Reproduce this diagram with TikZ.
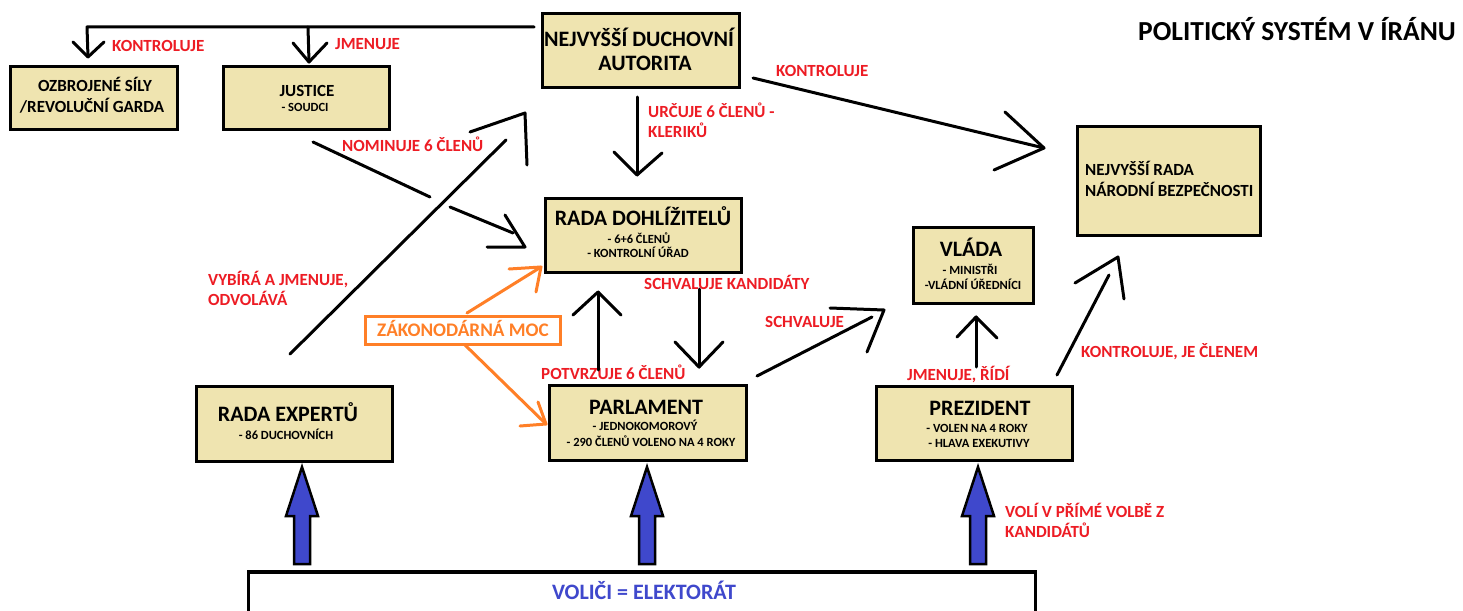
\documentclass[tikz,border=0pt]{standalone}
\usepackage{fontspec}
\setmainfont{Carlito}
\definecolor{tan}{RGB}{239,228,176}
\definecolor{lblred}{RGB}{237,28,36}
\definecolor{orng}{RGB}{255,127,39}
\definecolor{indg}{RGB}{63,72,204}
\newcommand\fszTitle{\fontsize{27.5}{30}\selectfont\bfseries}
\newcommand\fszBig{\fontsize{22}{26}\selectfont\bfseries}
\newcommand\fszMid{\fontsize{17}{20}\selectfont\bfseries}
\newcommand\fszSub{\fontsize{12.5}{15}\selectfont\bfseries}
\newcommand\fszLbl{\fontsize{17}{20}\selectfont\bfseries}
\begin{document}
\begin{tikzpicture}[x=1pt,y=-1pt,
  tanbox/.style={draw=black,line width=3.5pt,fill=tan,inner sep=0pt},
  conn/.style={draw=black,line width=3pt,line cap=round,line join=round},
  oconn/.style={draw=orng,line width=3pt,line cap=round,line join=round},
  lbl/.style={anchor=base west,inner sep=0pt,text=lblred,font=\fszLbl},
  ttl/.style={anchor=base,inner sep=0pt,font=\fszBig},
  mid/.style={anchor=base,inner sep=0pt,font=\fszMid},
  sub/.style={anchor=base,inner sep=0pt,font=\fszSub},
  bluearrow/.style={draw=black,line width=2.5pt,fill=indg,line join=miter}]
\useasboundingbox (0,0) rectangle (1463,610);
\clip (0,0) rectangle (1463,610);
\fill[white] (0,0) rectangle (1463,610);

% title
\node[anchor=base,inner sep=0pt,font=\fszTitle] (title) at (1297,41) {POLITICKÝ SYSTÉM V ÍRÁNU};

% boxes
\node[tanbox,minimum width=197pt,minimum height=74pt] (autorita) at (641,50.5) {};
\node[tanbox,minimum width=167pt,minimum height=63pt] (ozbrojene) at (94,98) {};
\node[tanbox,minimum width=166pt,minimum height=63pt] (justice) at (306.5,98) {};
\node[tanbox,minimum width=196pt,minimum height=74pt] (rd) at (643.5,235.5) {};
\node[tanbox,minimum width=120pt,minimum height=76pt] (vlada) at (973.5,265.5) {};
\node[tanbox,minimum width=183pt,minimum height=109pt] (nrnb) at (1169,181) {};
\node[tanbox,minimum width=196pt,minimum height=75pt] (experti) at (294.5,424) {};
\node[tanbox,minimum width=197pt,minimum height=75pt] (parlament) at (648,423) {};
\node[tanbox,minimum width=196pt,minimum height=74pt] (prezident) at (974.5,423.5) {};
\node[draw=black,line width=3.5pt,fill=white,inner sep=0pt,minimum width=787pt,minimum height=80pt] (volici) at (642,612) {};
\node[draw=orng,line width=3pt,inner sep=0pt,minimum width=195pt,minimum height=28pt] (zakmoc) at (463,330) {};

% box texts
\node[ttl] (autA) at (639,46.5) {NEJVYŠŠÍ DUCHOVNÍ};
\node[ttl] (autB) at (645,70.5) {AUTORITA};
\node[mid] (ozA) at (95,91.5) {OZBROJENÉ SÍLY};
\node[mid] (ozB) at (92,112.5) {/REVOLUČNÍ GARDA};
\node[mid] (juA) at (307,96) {JUSTICE};
\node[sub] (juB) at (305,111.5) {- SOUDCI};
\node[ttl] (rdA) at (643,225.5) {RADA DOHLÍŽITELŮ};
\node[sub] (rdB) at (639,243.3) {- 6+6 ČLENŮ};
\node[sub] (rdC) at (638,257.7) {- KONTROLNÍ ÚŘAD};
\node[ttl] (vlA) at (971,256.7) {VLÁDA};
\node[sub] (vlB) at (970,274) {- MINISTŘI};
\node[sub] (vlC) at (973,289.3) {-VLÁDNÍ ÚŘEDNÍCI};
\node[anchor=base west,inner sep=0pt,font=\fszMid] (nrA) at (1085,175) {NEJVYŠŠÍ RADA};
\node[anchor=base west,inner sep=0pt,font=\fszMid] (nrB) at (1085,196) {NÁRODNÍ BEZPEČNOSTI};
\node[ttl] (exA) at (288,421.7) {RADA EXPERTŮ};
\node[sub] (exB) at (286,439.3) {- 86 DUCHOVNÍCH};
\node[ttl] (paA) at (646,414) {PARLAMENT};
\node[sub] (paB) at (645,430.7) {- JEDNOKOMOROVÝ};
\node[sub] (paC) at (651,446.7) {- 290 ČLENŮ VOLENO NA 4 ROKY};
\node[ttl] (prA) at (980,415) {PREZIDENT};
\node[sub] (prB) at (977,432.7) {- VOLEN NA 4 ROKY};
\node[sub] (prC) at (979,447.3) {- HLAVA EXEKUTIVY};
\node[anchor=base,inner sep=0pt,font=\fontsize{22}{26}\selectfont\bfseries,text=indg] (volT) at (644,599.3) {VOLIČI = ELEKTORÁT};
\node[anchor=base,inner sep=0pt,font=\fontsize{19.2}{22}\selectfont\bfseries,text=orng] (zakT) at (463,336.7) {ZÁKONODÁRNÁ MOC};

% red labels
\node[lbl] (l1) at (112,51.5) {KONTROLUJE};
\node[lbl] (l2) at (335,49.5) {JMENUJE};
\node[lbl] (l3) at (776,76.5) {KONTROLUJE};
\node[lbl] (l4) at (648,117.5) {URČUJE 6 ČLENŮ -};
\node[lbl] (l4b) at (648,137.5) {KLERIKŮ};
\node[lbl] (l5) at (342,151.5) {NOMINUJE 6 ČLENŮ};
\node[lbl] (l6) at (208,285.5) {VYBÍRÁ A JMENUJE,};
\node[lbl] (l6b) at (208,305.5) {ODVOLÁVÁ};
\node[lbl] (l7) at (644,289.5) {SCHVALUJE KANDIDÁTY};
\node[lbl] (l8) at (765,327.5) {SCHVALUJE};
\node[lbl] (l9) at (541,379.5) {POTVRZUJE 6 ČLENŮ};
\node[lbl] (l10) at (907,380.5) {JMENUJE, ŘÍDÍ};
\node[lbl] (l11) at (1081,357.5) {KONTROLUJE, JE ČLENEM};
\node[lbl] (l12) at (1005,517.5) {VOLÍ V PŘÍMÉ VOLBĚ Z};
\node[lbl] (l12b) at (1005,537.5) {KANDIDÁTŮ};

% connector end points
\coordinate (t0) at (534,27);
\coordinate (t1) at (87,27);
\coordinate (hA) at (88,57);
\coordinate (t2) at (308,27);
\coordinate (hB) at (309,62);
\coordinate (a1) at (637,97);
\coordinate (a2) at (637,175);
\coordinate (k1) at (753,78);
\coordinate (k2) at (1044,148);
\coordinate (j1) at (313,142);
\coordinate (j2) at (430,197);
\coordinate (j3) at (450,207);
\coordinate (j4) at (513,233);
\coordinate (jh) at (525,247);
\coordinate (e1) at (290,354);
\coordinate (e2) at (506,140);
\coordinate (eh) at (525,113);
\coordinate (p1) at (598,370);
\coordinate (p2) at (598,292);
\coordinate (r1) at (699,289);
\coordinate (r2) at (699,367);
\coordinate (s1) at (757,376);
\coordinate (s2) at (872,317);
\coordinate (sh) at (884,310);
\coordinate (v1) at (976,367);
\coordinate (v2) at (976,317);
\coordinate (n1) at (1057,375);
\coordinate (n2) at (1109,275);
\coordinate (nh) at (1118,257);
\coordinate (o1) at (467,313);
\coordinate (o2) at (541,267);
\coordinate (o3) at (465,345);
\coordinate (o4) at (546,424);

% black connectors
\draw[conn] (t0) -- (t1) -- (hA);
\draw[conn] (hA) ++(-15,-15) -- (hA) -- ++(16,-15);
\draw[conn] (t2) -- (hB);
\draw[conn] (hB) ++(-16,-19) -- (hB) -- ++(18,-19);
\draw[conn] (a1) -- (a2);
\draw[conn] (a2) ++(-23,-23) -- (a2) -- ++(25,-22);
\draw[conn] (k1) -- (k2);
\draw[conn] (k2) ++(-39,-36) -- (k2) -- ++(-50,22);
\draw[conn] (j1) -- (j2);
\draw[conn] (j3) -- (j4);
\draw[conn] (jh) ++(-20,-32) -- (jh) -- ++(-38,0);
\draw[conn] (e1) -- (e2);
\draw[conn] (eh) ++(-55,19) -- (eh) -- ++(2,52);
\draw[conn] (p1) -- (p2);
\draw[conn] (p2) ++(-25,23) -- (p2) -- ++(23,23);
\draw[conn] (r1) -- (r2);
\draw[conn] (r2) ++(-24,-25) -- (r2) -- ++(24,-25);
\draw[conn] (s1) -- (s2);
\draw[conn] (sh) ++(-54,-2) -- (sh) -- ++(-17,42);
\draw[conn] (v1) -- (v2);
\draw[conn] (v2) ++(-19,20) -- (v2) -- ++(21,21);
\draw[conn] (n1) -- (n2);
\draw[conn] (nh) ++(-43,26) -- (nh) -- ++(6,42);

% orange connectors
\draw[oconn] (o1) -- (o2);
\draw[oconn] (o2) ++(-32,2) -- (o2) -- ++(-5,25);
\draw[oconn] (o3) -- (o4);
\draw[oconn] (o4) ++(-8,-22) -- (o4) -- ++(-26,2);

% blue arrows
\coordinate (b1) at (302,467);
\coordinate (b2) at (647,467);
\coordinate (b3) at (978,467);
\foreach \b in {b1,b2,b3}{
  \draw[bluearrow] (\b) -- ++(16,49) -- ++(-8,0) -- ++(0,48) -- ++(-16,0) -- ++(0,-48) -- ++(-8,0) -- cycle;
}
\end{tikzpicture}
\end{document}
